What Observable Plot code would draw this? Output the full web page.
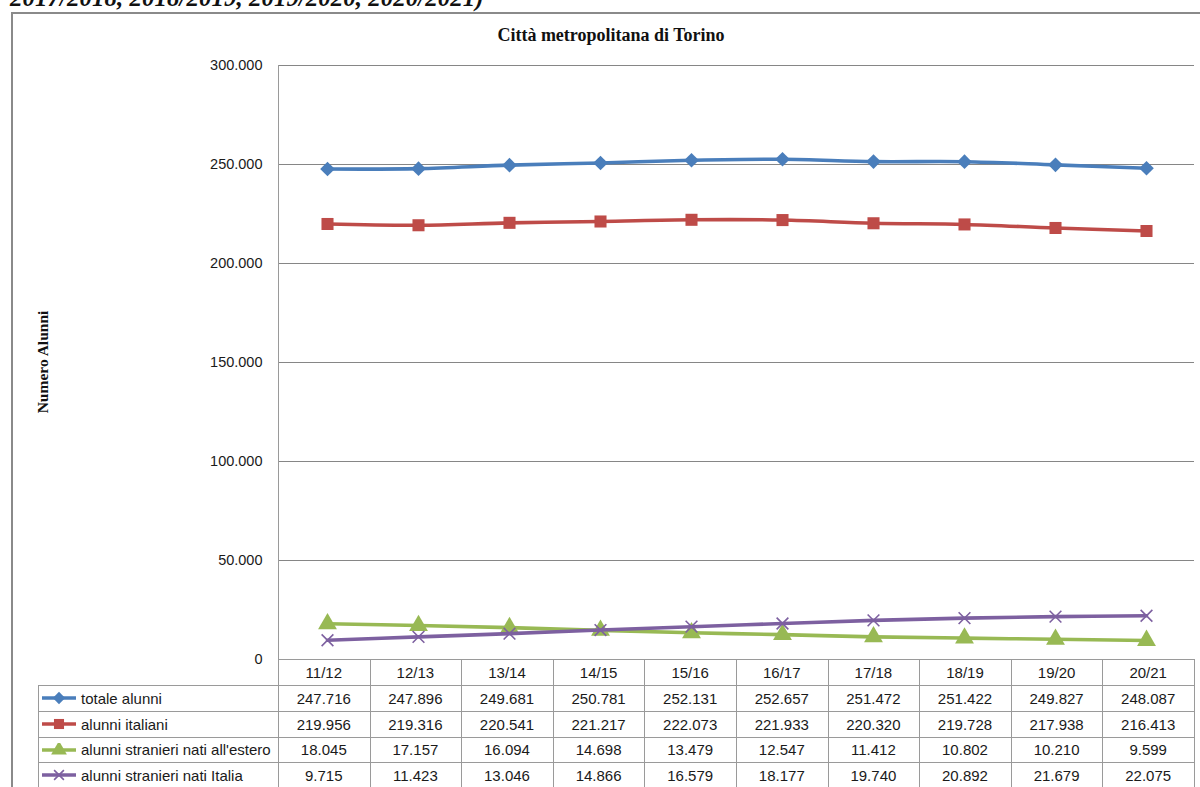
<!DOCTYPE html>
<html>
<head>
<meta charset="utf-8">
<script src="https://cdn.jsdelivr.net/npm/d3@7"></script>
<script src="https://cdn.jsdelivr.net/npm/@observablehq/plot@0.6"></script>
<style>
  html, body { margin: 0; padding: 0; background: #fff; }
  #wrap { position: relative; width: 1200px; height: 787px; overflow: hidden; background: #fff; }
  #wrap > * { position: absolute; }
  .cell { position: absolute; box-sizing: border-box; display: flex; align-items: center; justify-content: center;
          font-family: "Liberation Sans", Arial, sans-serif; font-size: 15px; color: #1a1a1a; white-space: nowrap; }
  .hl { position: absolute; height: 1px; background: #9a9a9a; }
  .vl { position: absolute; width: 1px; background: #9a9a9a; }
</style>
</head>
<body>
<div id="wrap"></div>
<script>
// ---- data ----
const years = ["11/12", "12/13", "13/14", "14/15", "15/16", "16/17", "17/18", "18/19", "19/20", "20/21"];
const seriesNames = ["totale alunni", "alunni italiani", "alunni stranieri nati all'estero", "alunni stranieri nati Italia"];
const totaleAlunni = [247716, 247896, 249681, 250781, 252131, 252657, 251472, 251422, 249827, 248087];
const alunniItaliani = [219956, 219316, 220541, 221217, 222073, 221933, 220320, 219728, 217938, 216413];
const stranieriEstero = [18045, 17157, 16094, 14698, 13479, 12547, 11412, 10802, 10210, 9599];
const stranieriItalia = [9715, 11423, 13046, 14866, 16579, 18177, 19740, 20892, 21679, 22075];
const yTicks = [0, 50000, 100000, 150000, 200000, 250000, 300000];
const titleText = "Città metropolitana di Torino";
const yLabel = "Numero Alunni";
const topText = "2017/2018, 2018/2019, 2019/2020, 2020/2021)";

const seriesValues = [totaleAlunni, alunniItaliani, stranieriEstero, stranieriItalia];
const colors = ["#4A7EBB", "#BE4B48", "#98B954", "#7D60A0"];
const symbols = ["diamond2", "square", "triangle", "times"];
const radii = [6.6, 6.8, 7.0, 5.4];

const rows = [];
seriesNames.forEach((s, si) => years.forEach((y, i) => rows.push({series: s, year: y, value: seriesValues[si][i]})));

const itLocale = d3.formatLocale({decimal: ",", thousands: ".", grouping: [3], currency: ["", "€"]});
const fmt = itLocale.format(",d");

const W = 1200, H = 787;
const pLeft = 278, pRight = 1194, pTop = 65, pBottom = 659;

const marks = [
  Plot.ruleY(yTicks.slice(1), {y: d => d, stroke: "#868686", strokeWidth: 1.2}),
  Plot.axisY({ticks: yTicks, tickFormat: d => fmt(d), tickSize: 0, tickPadding: 16, fontSize: 14.5, fill: "#1a1a1a", label: null})
];
seriesNames.forEach((s, si) => {
  const data = rows.filter(r => r.series === s);
  marks.push(Plot.line(data, {x: "year", y: "value", stroke: colors[si], strokeWidth: 3.6, curve: "catmull-rom"}));
  if (symbols[si] === "times") {
    marks.push(Plot.dot(data, {x: "year", y: "value", symbol: "times", r: radii[si], stroke: colors[si], strokeWidth: 1.6, fill: "none"}));
  } else {
    marks.push(Plot.dot(data, {x: "year", y: "value", symbol: symbols[si], r: radii[si], fill: colors[si], stroke: "none"}));
  }
});

const chart = Plot.plot({
  width: W, height: H,
  marginLeft: pLeft, marginRight: W - pRight, marginTop: pTop, marginBottom: H - pBottom,
  x: {type: "point", domain: years, padding: 0.5, axis: null},
  y: {domain: [0, 300000], axis: null},
  style: {fontFamily: "Liberation Sans, Arial, sans-serif", fontSize: "14.5px", background: "transparent", overflow: "visible"},
  marks
});

const wrap = document.getElementById("wrap");

// top cropped text (cropped at the top edge, as in the reference)
const tt = document.createElement("div");
tt.textContent = topText;
Object.assign(tt.style, {left: "10px", top: "-15px", fontFamily: "Liberation Serif, Times New Roman, serif", fontStyle: "italic", fontWeight: "bold", fontSize: "25px", lineHeight: "25px", color: "#111", whiteSpace: "nowrap"});
wrap.appendChild(tt);

// outer chart border
const ob = document.createElement("div");
Object.assign(ob.style, {left: "11px", top: "12px", width: "1300px", height: "900px", borderLeft: "2px solid #8a8a8a", borderTop: "2px solid #8a8a8a"});
wrap.appendChild(ob);

// title
const ti = document.createElement("div");
ti.textContent = titleText;
Object.assign(ti.style, {left: "0px", width: "1222px", top: "25px", textAlign: "center", fontFamily: "Liberation Serif, Times New Roman, serif", fontWeight: "bold", fontSize: "18px", color: "#111"});
wrap.appendChild(ti);

// y label
const yl = document.createElement("div");
yl.textContent = yLabel;
Object.assign(yl.style, {left: "43px", top: "362px", transform: "translate(-50%,-50%) rotate(-90deg)", fontFamily: "Liberation Serif, Times New Roman, serif", fontWeight: "bold", fontSize: "15.5px", color: "#111", whiteSpace: "nowrap"});
wrap.appendChild(yl);

chart.style.left = "0px"; chart.style.top = "0px";
wrap.appendChild(chart);

// data table
const rowEdges = [659, 685, 711, 737, 762, 788];
const colW = (pRight - pLeft) / years.length;
const legLeft = 38;
function line(cls, x, y, len) {
  const d = document.createElement("div");
  d.className = cls;
  d.style.left = x + "px"; d.style.top = y + "px";
  if (cls === "hl") d.style.width = len + "px"; else d.style.height = len + "px";
  wrap.appendChild(d);
}
line("vl", pLeft, pTop, pBottom - pTop);
line("hl", pLeft, rowEdges[0], pRight - pLeft);
for (let r = 1; r < rowEdges.length; r++) line("hl", legLeft, rowEdges[r], pRight - legLeft);
line("vl", legLeft, rowEdges[1], rowEdges[5] - rowEdges[1]);
for (let c = 0; c <= years.length; c++) line("vl", Math.round(pLeft + c * colW), rowEdges[0], rowEdges[5] - rowEdges[0]);

function cell(text, x, y, w, h, align) {
  const d = document.createElement("div");
  d.className = "cell";
  d.textContent = text;
  Object.assign(d.style, {left: x + "px", top: y + "px", width: w + "px", height: h + "px"});
  if (align) d.style.justifyContent = align;
  wrap.appendChild(d);
  return d;
}
years.forEach((y, i) => cell(y, pLeft + i * colW, rowEdges[0], colW, rowEdges[1] - rowEdges[0]));
seriesNames.forEach((s, si) => {
  const y0 = rowEdges[si + 1], h = rowEdges[si + 2] - y0;
  seriesValues[si].forEach((v, i) => cell(fmt(v), pLeft + i * colW, y0, colW, h));
  const lc = cell("", legLeft, y0, pLeft - legLeft, h, "flex-start");
  const ns = "http://www.w3.org/2000/svg";
  const sv = document.createElementNS(ns, "svg");
  sv.setAttribute("width", 40); sv.setAttribute("height", 14);
  sv.style.marginLeft = "3px";
  const ln = document.createElementNS(ns, "line");
  ln.setAttribute("x1", 1); ln.setAttribute("x2", 35); ln.setAttribute("y1", 7); ln.setAttribute("y2", 7);
  ln.setAttribute("stroke", colors[si]); ln.setAttribute("stroke-width", 3.6);
  sv.appendChild(ln);
  const p = document.createElementNS(ns, "path");
  const sym = {diamond2: d3.symbolDiamond2, square: d3.symbolSquare, triangle: d3.symbolTriangle, times: d3.symbolTimes}[symbols[si]];
  p.setAttribute("d", d3.symbol(sym, Math.PI * radii[si] * radii[si] * 0.7)());
  p.setAttribute("transform", "translate(18,7)");
  if (symbols[si] === "times") { p.setAttribute("fill", "none"); p.setAttribute("stroke", colors[si]); p.setAttribute("stroke-width", 1.6); }
  else p.setAttribute("fill", colors[si]);
  sv.appendChild(p);
  lc.appendChild(sv);
  const sp = document.createElement("span");
  sp.textContent = s;
  lc.appendChild(sp);
});
</script>
</body>
</html>
